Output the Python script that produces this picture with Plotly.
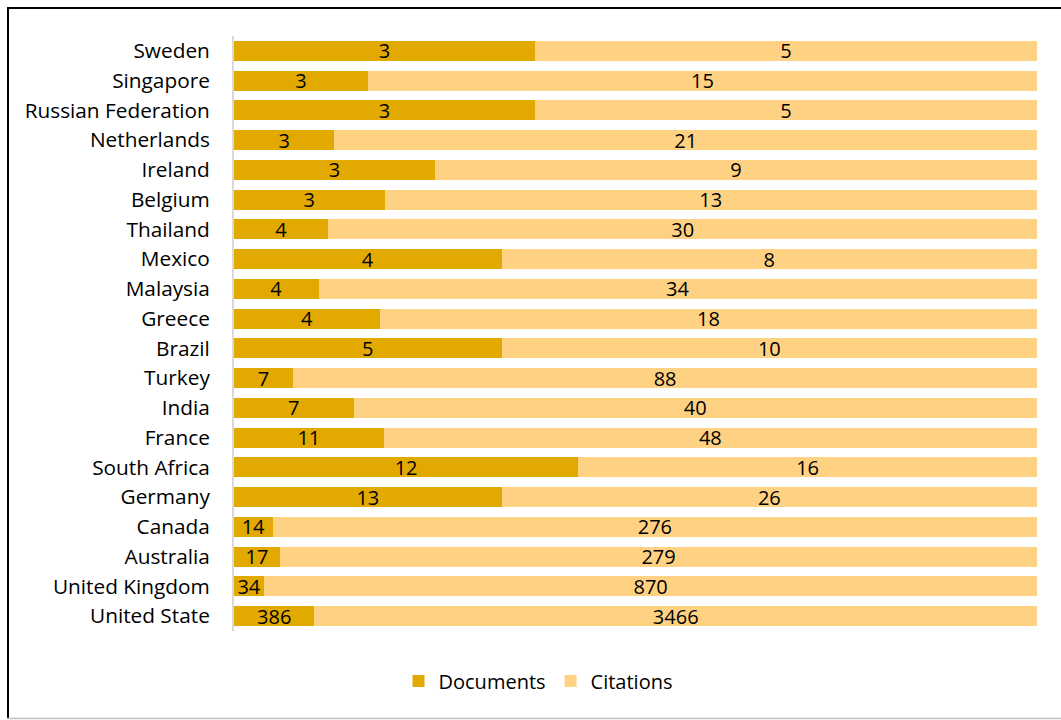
import plotly.graph_objects as go

countries = ["Sweden", "Singapore", "Russian Federation", "Netherlands", "Ireland",
             "Belgium", "Thailand", "Mexico", "Malaysia", "Greece", "Brazil",
             "Turkey", "India", "France", "South Africa", "Germany", "Canada",
             "Australia", "United Kingdom", "United State"]
documents = [3, 3, 3, 3, 3, 3, 4, 4, 4, 4, 5, 7, 7, 11, 12, 13, 14, 17, 34, 386]
citations = [5, 15, 5, 21, 9, 13, 30, 8, 34, 18, 10, 88, 40, 48, 16, 26, 276, 279, 870, 3466]

FONT = "Open Sans"
LABEL_SIZE = 20
TICK_SIZE = 20.8
DOC_COLOR = "#E2AA00"
CIT_COLOR = "#FFD182"

fig = go.Figure()
for name, vals, color in [("Documents", documents, DOC_COLOR),
                          ("Citations", citations, CIT_COLOR)]:
    fig.add_trace(go.Bar(
        name=name, y=countries, x=vals, orientation="h",
        marker=dict(color=color, line=dict(width=0)),
        text=[str(v) for v in vals], textposition="inside", textangle=0,
        insidetextanchor="middle", constraintext="none",
        textfont=dict(family=FONT, size=LABEL_SIZE, color="#000000"),
        hoverinfo="skip",
    ))

# outer frame of the chart area
L, R, T, B = 234, 1037, 36, 631
def px(x):
    return (x - L) / (R - L)
def py(y):
    return (B - y) / (B - T)

shapes = [
    dict(type="line", xref="paper", yref="paper", x0=px(8), x1=px(8), y0=py(7), y1=py(719),
         line=dict(color="#000000", width=2)),
    dict(type="line", xref="paper", yref="paper", x0=px(7), x1=px(1070), y0=py(8), y1=py(8),
         line=dict(color="#000000", width=2)),
    dict(type="line", xref="paper", yref="paper", x0=px(7), x1=px(1070), y0=py(718.5), y1=py(718.5),
         line=dict(color="#BFBFBF", width=1.5)),
]

fig.update_layout(
    width=1061, height=720,
    barmode="stack", barnorm="percent", bargap=0.33,
    plot_bgcolor="white", paper_bgcolor="white",
    margin=dict(l=L, r=1061 - R, t=T, b=720 - B),
    font=dict(family=FONT, size=LABEL_SIZE, color="#000000"),
    uniformtext=dict(minsize=LABEL_SIZE, mode="show"),
    showlegend=True,
    legend=dict(orientation="h", x=px(538), xanchor="center", y=py(681), yanchor="middle",
                font=dict(family=FONT, size=LABEL_SIZE), itemwidth=30, traceorder="normal"),
    xaxis=dict(range=[0, 100], visible=False, fixedrange=True),
    yaxis=dict(categoryorder="array", categoryarray=countries, autorange="reversed",
               showline=True, linecolor="#D9D9D9", linewidth=2, ticks="",
               ticklabelstandoff=18, showgrid=False,
               tickfont=dict(family=FONT, size=TICK_SIZE)),
    shapes=shapes,
)

fig.write_html("out.html")
